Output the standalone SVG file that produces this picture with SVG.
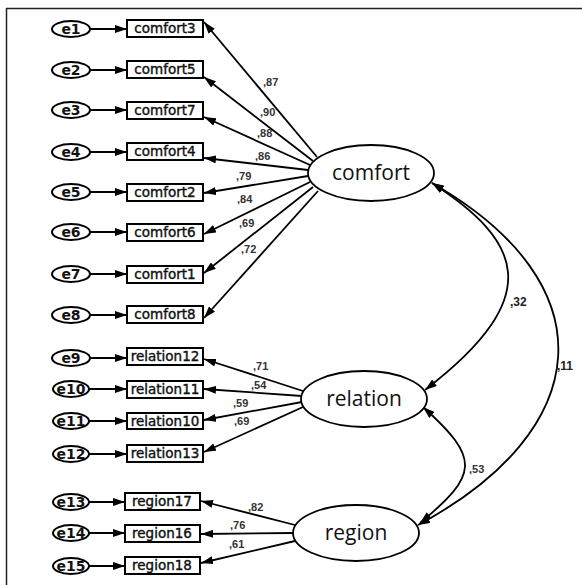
<svg xmlns="http://www.w3.org/2000/svg" width="582" height="585" viewBox="0 0 582 585">
<style>
.lat{fill:#fff;stroke:#000;stroke-width:1.8}
.err{fill:#fff;stroke:#000;stroke-width:2}
.box{fill:#fff;stroke:#000;stroke-width:2}
.ln{fill:none;stroke:#000;stroke-width:1.8}
.lt{font-family:"Open Sans",sans-serif;font-size:21px;fill:#111;text-anchor:middle}
.bt{font-family:"DejaVu Sans",sans-serif;font-size:13.5px;fill:#111;stroke:#111;stroke-width:0.4;text-anchor:middle}
.et{font-family:"DejaVu Sans",sans-serif;font-weight:bold;font-size:14px;fill:#111;text-anchor:middle}
.ct{font-family:"Liberation Sans",Arial,sans-serif;font-weight:bold;font-size:11px;fill:#333}
.ct2{font-family:"Liberation Sans",Arial,sans-serif;font-weight:bold;font-size:12px;fill:#222}
</style>
<defs>
<marker id="ah" viewBox="0 0 12 8" refX="12" refY="4" markerWidth="12" markerHeight="8" markerUnits="userSpaceOnUse" orient="auto-start-reverse">
<path d="M0,0 L12,4 L0,8 Z" fill="#000"/>
</marker>
</defs>
<rect width="582" height="585" fill="#fff"/>
<g id="frame">
<line x1="6" y1="8.5" x2="582" y2="8.5" stroke="#222" stroke-width="1.5"/>
<line x1="6.5" y1="8" x2="6.5" y2="585" stroke="#222" stroke-width="1.5"/>
</g>
<g id="connectors">
<line class="ln" x1="90" y1="29" x2="127" y2="29" marker-end="url(#ah)"/>
<line class="ln" x1="90" y1="70" x2="127" y2="70" marker-end="url(#ah)"/>
<line class="ln" x1="90" y1="110" x2="127" y2="110" marker-end="url(#ah)"/>
<line class="ln" x1="90" y1="152" x2="127" y2="152" marker-end="url(#ah)"/>
<line class="ln" x1="90" y1="192" x2="127" y2="192" marker-end="url(#ah)"/>
<line class="ln" x1="90" y1="232" x2="127" y2="232" marker-end="url(#ah)"/>
<line class="ln" x1="90" y1="274" x2="127" y2="274" marker-end="url(#ah)"/>
<line class="ln" x1="90" y1="315" x2="127" y2="315" marker-end="url(#ah)"/>
<line class="ln" x1="90" y1="358" x2="127" y2="358" marker-end="url(#ah)"/>
<line class="ln" x1="89" y1="389" x2="127" y2="389" marker-end="url(#ah)"/>
<line class="ln" x1="89" y1="421" x2="127" y2="421" marker-end="url(#ah)"/>
<line class="ln" x1="89" y1="454" x2="127" y2="454" marker-end="url(#ah)"/>
<line class="ln" x1="89" y1="502" x2="125" y2="502" marker-end="url(#ah)"/>
<line class="ln" x1="89" y1="533" x2="125" y2="533" marker-end="url(#ah)"/>
<line class="ln" x1="89" y1="566" x2="125" y2="566" marker-end="url(#ah)"/>
<line class="ln" x1="317" y1="157" x2="204" y2="22" marker-end="url(#ah)"/>
<line class="ln" x1="313" y1="161" x2="204" y2="77" marker-end="url(#ah)"/>
<line class="ln" x1="310" y1="165" x2="204" y2="117" marker-end="url(#ah)"/>
<line class="ln" x1="308" y1="170" x2="204" y2="158" marker-end="url(#ah)"/>
<line class="ln" x1="308" y1="176" x2="204" y2="193" marker-end="url(#ah)"/>
<line class="ln" x1="310" y1="182" x2="204" y2="234" marker-end="url(#ah)"/>
<line class="ln" x1="313" y1="187" x2="204" y2="273" marker-end="url(#ah)"/>
<line class="ln" x1="318" y1="191" x2="204" y2="318" marker-end="url(#ah)"/>
<line class="ln" x1="303" y1="391" x2="204" y2="359" marker-end="url(#ah)"/>
<line class="ln" x1="302" y1="396" x2="204" y2="389" marker-end="url(#ah)"/>
<line class="ln" x1="302" y1="402" x2="204" y2="420" marker-end="url(#ah)"/>
<line class="ln" x1="303" y1="407" x2="204" y2="452" marker-end="url(#ah)"/>
<line class="ln" x1="295" y1="525" x2="201" y2="501" marker-end="url(#ah)"/>
<line class="ln" x1="293" y1="533" x2="201" y2="534" marker-end="url(#ah)"/>
<line class="ln" x1="295" y1="541" x2="201" y2="563" marker-end="url(#ah)"/>
<path class="ln" d="M432,183 C520,240 549,295 425,390" marker-start="url(#ah)" marker-end="url(#ah)"/>
<path class="ln" d="M432,183 C610,285 595,430 418,525" marker-start="url(#ah)" marker-end="url(#ah)"/>
<path class="ln" d="M423,407 C481,459 478,475 420,523" marker-start="url(#ah)" marker-end="url(#ah)"/>
</g>
<g id="labels">
<text class="ct" x="263" y="86">,87</text>
<text class="ct" x="260" y="116">,90</text>
<text class="ct" x="257" y="137">,88</text>
<text class="ct" x="255" y="160">,86</text>
<text class="ct" x="236" y="180">,79</text>
<text class="ct" x="237" y="203">,84</text>
<text class="ct" x="239" y="227">,69</text>
<text class="ct" x="241" y="253">,72</text>
<text class="ct" x="253" y="370">,71</text>
<text class="ct" x="251" y="389">,54</text>
<text class="ct" x="233" y="407">,59</text>
<text class="ct" x="234" y="425">,69</text>
<text class="ct" x="248" y="511">,82</text>
<text class="ct" x="230" y="529">,76</text>
<text class="ct" x="229" y="548">,61</text>
<text class="ct2" x="510" y="306">,32</text>
<text class="ct2" x="557" y="370">,11</text>
<text class="ct" x="469" y="473">,53</text>
</g>
<g id="comfort"><ellipse class="lat" cx="371" cy="173" rx="63" ry="28"/><text class="lt" x="371" y="180">comfort</text></g>
<g id="relation"><ellipse class="lat" cx="364" cy="399" rx="63" ry="28"/><text class="lt" x="364" y="406">relation</text></g>
<g id="region"><ellipse class="lat" cx="356" cy="533" rx="63" ry="28"/><text class="lt" x="356" y="540">region</text></g>
<g id="comfort3"><rect class="box" x="127" y="20" width="76" height="17"/><text class="bt" x="165" y="33">comfort3</text></g>
<g id="comfort5"><rect class="box" x="127" y="61" width="76" height="17"/><text class="bt" x="165" y="74">comfort5</text></g>
<g id="comfort7"><rect class="box" x="127" y="102" width="76" height="17"/><text class="bt" x="165" y="115">comfort7</text></g>
<g id="comfort4"><rect class="box" x="127" y="143" width="76" height="17"/><text class="bt" x="165" y="156">comfort4</text></g>
<g id="comfort2"><rect class="box" x="127" y="184" width="76" height="17"/><text class="bt" x="165" y="197">comfort2</text></g>
<g id="comfort6"><rect class="box" x="127" y="224" width="76" height="17"/><text class="bt" x="165" y="237">comfort6</text></g>
<g id="comfort1"><rect class="box" x="127" y="266" width="76" height="17"/><text class="bt" x="165" y="279">comfort1</text></g>
<g id="comfort8"><rect class="box" x="127" y="306" width="76" height="17"/><text class="bt" x="165" y="319">comfort8</text></g>
<g id="relation12"><rect class="box" x="127" y="348" width="76" height="17"/><text class="bt" x="165" y="361">relation12</text></g>
<g id="relation11"><rect class="box" x="127" y="381" width="76" height="17"/><text class="bt" x="165" y="394">relation11</text></g>
<g id="relation10"><rect class="box" x="127" y="413" width="76" height="16"/><text class="bt" x="165" y="426">relation10</text></g>
<g id="relation13"><rect class="box" x="127" y="445" width="76" height="17"/><text class="bt" x="165" y="458">relation13</text></g>
<g id="region17"><rect class="box" x="125" y="493" width="75" height="17"/><text class="bt" x="162" y="506">region17</text></g>
<g id="region16"><rect class="box" x="125" y="525" width="75" height="17"/><text class="bt" x="162" y="538">region16</text></g>
<g id="region18"><rect class="box" x="125" y="557" width="75" height="17"/><text class="bt" x="162" y="570">region18</text></g>
<g id="e1"><ellipse class="err" cx="71" cy="29" rx="19" ry="8"/><text class="et" x="71" y="34">e1</text></g>
<g id="e2"><ellipse class="err" cx="71" cy="70" rx="19" ry="8"/><text class="et" x="71" y="75">e2</text></g>
<g id="e3"><ellipse class="err" cx="71" cy="110" rx="19" ry="8"/><text class="et" x="71" y="115">e3</text></g>
<g id="e4"><ellipse class="err" cx="71" cy="152" rx="19" ry="8"/><text class="et" x="71" y="157">e4</text></g>
<g id="e5"><ellipse class="err" cx="71" cy="192" rx="19" ry="8"/><text class="et" x="71" y="197">e5</text></g>
<g id="e6"><ellipse class="err" cx="71" cy="232" rx="19" ry="8"/><text class="et" x="71" y="237">e6</text></g>
<g id="e7"><ellipse class="err" cx="71" cy="274" rx="19" ry="8"/><text class="et" x="71" y="279">e7</text></g>
<g id="e8"><ellipse class="err" cx="71" cy="315" rx="19" ry="8"/><text class="et" x="71" y="320">e8</text></g>
<g id="e9"><ellipse class="err" cx="71" cy="358" rx="19" ry="8"/><text class="et" x="71" y="363">e9</text></g>
<g id="e10"><ellipse class="err" cx="71" cy="389" rx="18" ry="8"/><text class="et" x="71" y="394">e10</text></g>
<g id="e11"><ellipse class="err" cx="71" cy="421" rx="18" ry="8"/><text class="et" x="71" y="426">e11</text></g>
<g id="e12"><ellipse class="err" cx="71" cy="454" rx="18" ry="8"/><text class="et" x="71" y="459">e12</text></g>
<g id="e13"><ellipse class="err" cx="71" cy="502" rx="18" ry="8"/><text class="et" x="71" y="507">e13</text></g>
<g id="e14"><ellipse class="err" cx="71" cy="533" rx="18" ry="8"/><text class="et" x="71" y="538">e14</text></g>
<g id="e15"><ellipse class="err" cx="71" cy="566" rx="18" ry="8"/><text class="et" x="71" y="571">e15</text></g>
</svg>
